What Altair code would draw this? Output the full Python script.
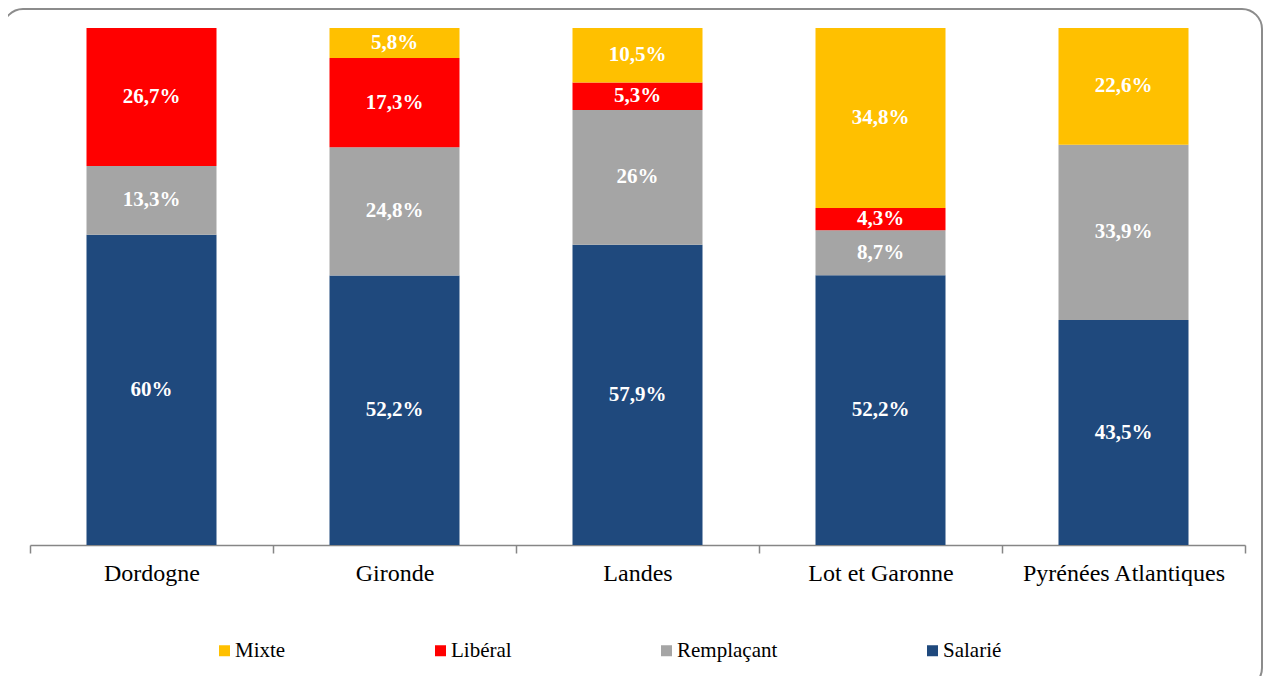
import altair as alt
import pandas as pd

depts = ["Dordogne", "Gironde", "Landes", "Lot et Garonne", "Pyrénées Atlantiques"]
series = ["Salarié", "Remplaçant", "Libéral", "Mixte"]
salarie = [60, 52.2, 57.9, 52.2, 43.5]
remplacant = [13.3, 24.8, 26, 8.7, 33.9]
liberal = [26.7, 17.3, 5.3, 4.3, 0]
mixte = [0, 5.8, 10.5, 34.8, 22.6]
series_colors = ["#1F497D", "#A5A5A5", "#FF0000", "#FFC000"]
legend_order = ["Mixte", "Libéral", "Remplaçant", "Salarié"]

values = [salarie, remplacant, liberal, mixte]
rows = []
for si, (s, vals) in enumerate(zip(series, values)):
    for d, v in zip(depts, vals):
        lab = (f"{v:g}".replace(".", ",") + "%") if v > 0 else ""
        rows.append({"dept": d, "serie": s, "value": v, "order": si, "label": lab})
df = pd.DataFrame(rows)

color_map = dict(zip(series, series_colors))
FONT = "Liberation Serif"

base = alt.Chart(df).transform_stack(
    stack="value", groupby=["dept"], as_=["v0", "v1"], offset="normalize",
    sort=[alt.SortField("order", order="ascending")]
).transform_calculate(mid="(datum.v0 + datum.v1) / 2")

xenc = alt.X(
    "dept:N", sort=depts,
    scale=alt.Scale(paddingInner=0, paddingOuter=0),
    axis=alt.Axis(title=None, labelAngle=0, tickBand="extent", domainColor="#868686",
                  tickColor="#868686", tickSize=8, domainWidth=1.5, tickWidth=1.5,
                  labelFont=FONT, labelFontSize=24, labelColor="black", labelPadding=8,
                  labelLimit=0, grid=False),
)

bars = base.mark_bar(width={"band": 0.535}).encode(
    x=xenc,
    y=alt.Y("v0:Q", scale=alt.Scale(domain=[0, 1]), axis=None),
    y2="v1:Q",
    color=alt.Color(
        "serie:N",
        scale=alt.Scale(domain=legend_order, range=[color_map[s] for s in legend_order]),
        legend=alt.Legend(orient="none", direction="horizontal", legendX=184, legendY=612,
                          title=None, symbolType="square", symbolSize=121,
                          symbolStrokeWidth=0, labelFont=FONT, labelFontSize=21,
                          labelColor="black", columnPadding=144, labelOffset=0),
    ),
)

texts = base.transform_filter("datum.value > 0").mark_text(
    font=FONT, fontWeight="bold", fontSize=21, color="white"
).encode(
    x=alt.X("dept:N", sort=depts),
    y=alt.Y("mid:Q", scale=alt.Scale(domain=[0, 1])),
    text="label:N",
)

border = alt.Chart(pd.DataFrame({"a": [0]})).mark_rect(
    fillOpacity=0, stroke="#8C8C8C", strokeWidth=2, cornerRadius=20
).encode(x=alt.value(-27), x2=alt.value(1232), y=alt.value(-19), y2=alt.value(660))

chart = alt.layer(border, bars, texts).properties(
    width=1215, height=517,
    autosize=alt.AutoSizeParams(type="none"),
    padding={"left": 22, "top": 20, "right": 19, "bottom": 131},
).configure_view(stroke=None)

chart.save("out.html", embed_options={"renderer": "svg", "actions": False})
